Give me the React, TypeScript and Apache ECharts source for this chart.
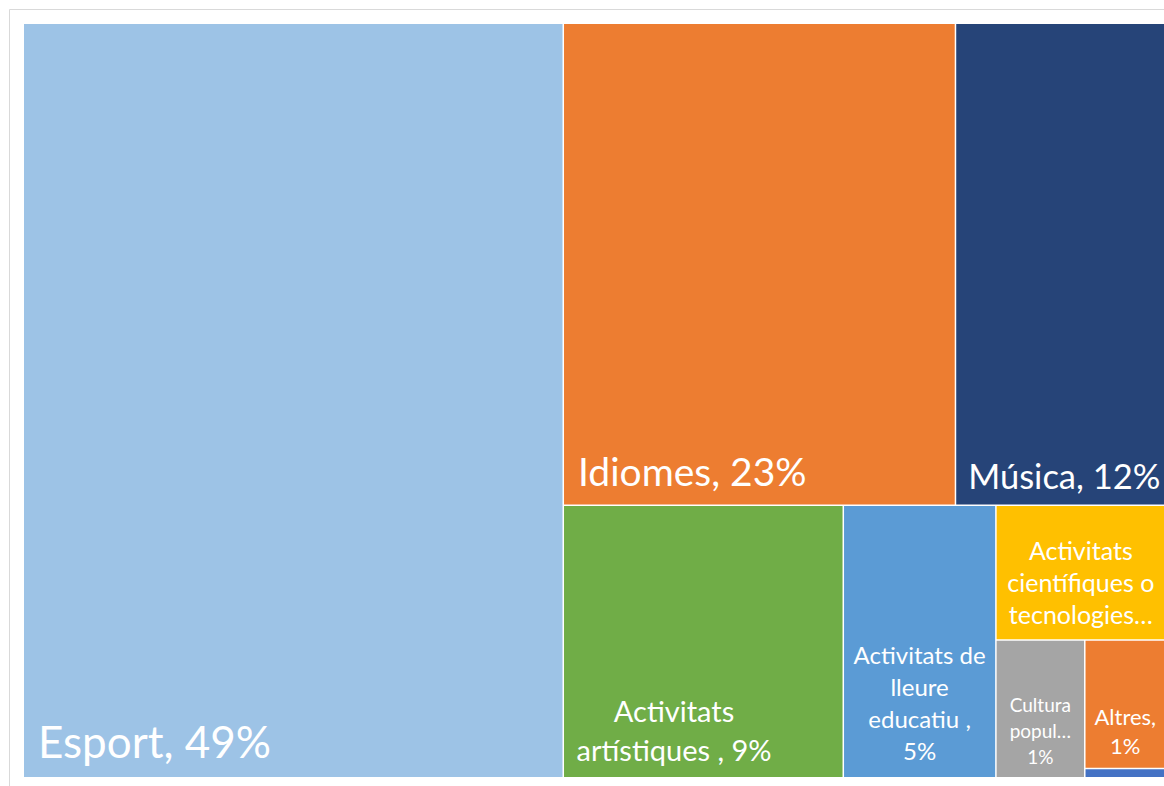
import React, { useEffect, useRef } from "react";
import * as echarts from "echarts";

// Categories, values (share of responses, %) and shown label texts
const categories = [
  "Esport",
  "Idiomes",
  "Música",
  "Activitats artístiques",
  "Activitats de lleure educatiu",
  "Activitats científiques o tecnologies",
  "Cultura popular",
  "Altres",
  "Altres (sense etiqueta)",
];
const values = [48.6, 22.55, 12.09, 9.1, 4.96, 2.73, 1.46, 1.24, 0.09];
const labelTexts = [
  "Esport, 49%",
  "Idiomes, 23%",
  "Música, 12%",
  "Activitats\nartístiques , 9%",
  "Activitats de\nlleure\neducatiu ,\n5%",
  "Activitats\ncientífiques o\ntecnologies…",
  "Cultura\npopul…\n1%",
  "Altres,\n1%",
  "",
];
const colors = [
  "#9dc3e6",
  "#ed7d31",
  "#264478",
  "#70ad47",
  "#5b9bd5",
  "#ffc000",
  "#a5a5a5",
  "#ed7d31",
  "#4472c4",
];

// label styling (kept separate from data)
const labelStyles: any[] = [
  { position: "insideBottomLeft", distance: 14, fontSize: 44 },
  { position: "insideBottomLeft", distance: 14, fontSize: 39 },
  { position: "insideBottomLeft", distance: 12, fontSize: 34.5 },
  { position: ["39.5%", "82.5%"], align: "center", verticalAlign: "middle", fontSize: 29, lineHeight: 39 },
  { position: ["50%", "72.6%"], align: "center", verticalAlign: "middle", fontSize: 24, lineHeight: 32 },
  { position: ["50%", "57%"], align: "center", verticalAlign: "middle", fontSize: 25, lineHeight: 32 },
  { position: ["50%", "66%"], align: "center", verticalAlign: "middle", fontSize: 19, lineHeight: 26 },
  { position: ["50%", "71%"], align: "center", verticalAlign: "middle", fontSize: 22, lineHeight: 29 },
  { show: false },
];

export default function App() {
  const ref = useRef<HTMLDivElement>(null);
  useEffect(() => {
    if (!ref.current) return;
    const chart = echarts.init(ref.current, undefined, { renderer: "svg" });
    const data = categories.map((name, i) => ({
      name,
      value: values[i],
      itemStyle: { color: colors[i] },
      label: {
        show: true,
        formatter: () => labelTexts[i],
        ...labelStyles[i],
      },
    }));
    chart.setOption({
      animation: false,
      backgroundColor: "#ffffff",
      graphic: [
        {
          type: "rect",
          shape: { x: 9.5, y: 9.5, width: 1200, height: 820 },
          style: { fill: "none", stroke: "#d9d9d9", lineWidth: 1 },
          silent: true,
          z: 10,
        },
      ],
      series: [
        {
          type: "treemap",
          left: 24,
          top: 24,
          width: 1141,
          height: 753,
          squareRatio: 1.13,
          sort: "desc",
          roam: false,
          nodeClick: false,
          breadcrumb: { show: false },
          visibleMin: 0,
          label: {
            color: "#ffffff",
            fontFamily: "Lato",
            padding: 0,
            overflow: "none",
          },
          levels: [
            { itemStyle: { gapWidth: 1.5, borderWidth: 0, borderColor: "#ffffff" } },
            { itemStyle: { borderWidth: 0, gapWidth: 0 } },
          ],
          data,
        },
      ],
    });
    return () => chart.dispose();
  }, []);
  return (
    <div
      ref={ref}
      style={{ position: "fixed", left: 0, top: 0, width: 1164, height: 786 }}
    />
  );
}
